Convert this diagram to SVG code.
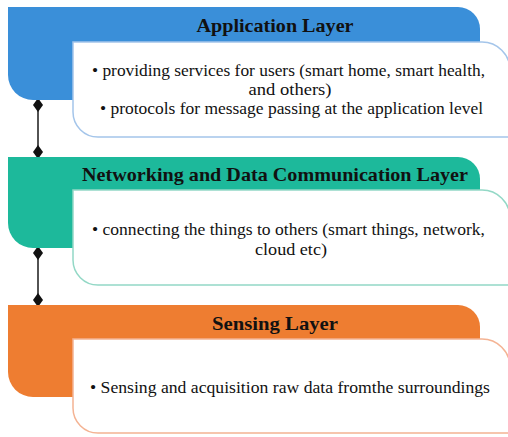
<svg xmlns="http://www.w3.org/2000/svg" width="508" height="437" viewBox="0 0 508 437">
<style>
.title{font-family:"Liberation Serif","Times New Roman",serif;font-weight:bold;font-size:19px;fill:#111;text-anchor:middle}
.body{font-family:"Liberation Serif","Times New Roman",serif;font-size:17px;fill:#111;text-anchor:middle}
.card{fill:#fff;stroke-width:1.5}
.conn{stroke:#1a1a1a;stroke-width:1.5;fill:none}
</style>
<defs>
<marker id="dStart" markerUnits="userSpaceOnUse" markerWidth="12" markerHeight="16" viewBox="-6 -8 12 16" refX="0" refY="-5" orient="0">
<path d="M0,-7 L5,0 L0,7 L-5,0 Z" fill="#111"/>
</marker>
<marker id="dEnd" markerUnits="userSpaceOnUse" markerWidth="12" markerHeight="16" viewBox="-6 -8 12 16" refX="0" refY="5" orient="0">
<path d="M0,-7 L5,0 L0,7 L-5,0 Z" fill="#111"/>
</marker>
</defs>
<g id="connectors">
<line class="conn" x1="38" y1="100" x2="38" y2="157" marker-start="url(#dStart)" marker-end="url(#dEnd)"/>
<line class="conn" x1="38" y1="248" x2="38" y2="305" marker-start="url(#dStart)" marker-end="url(#dEnd)"/>
</g>
<g id="application-layer">
<path d="M8,7 H458 A22,22 0 0 1 480,29 V100 H33 A25,25 0 0 1 8,75 Z" fill="#3a8fd9"/>
<text class="title" x="275" y="32" textLength="157" lengthAdjust="spacingAndGlyphs">Application Layer</text>
<path class="card" stroke="#a4c5ea" d="M73,42 H482 A28,28 0 0 1 510,70 V137 H98 A25,25 0 0 1 73,112 Z"/>
<text class="body" x="288.5" y="76" textLength="393" lengthAdjust="spacingAndGlyphs">• providing services for users (smart home, smart health,</text>
<text class="body" x="290" y="95" textLength="83" lengthAdjust="spacingAndGlyphs">and others)</text>
<text class="body" x="291.5" y="114" textLength="383" lengthAdjust="spacingAndGlyphs">• protocols for message passing at the application level</text>
</g>
<g id="networking-layer">
<path d="M8,157 H458 A22,22 0 0 1 480,179 V248 H33 A25,25 0 0 1 8,223 Z" fill="#1db99b"/>
<text class="title" x="275" y="181" textLength="386" lengthAdjust="spacingAndGlyphs">Networking and Data Communication Layer</text>
<path class="card" stroke="#93d8c6" d="M73,190 H482 A28,28 0 0 1 510,218 V285 H98 A25,25 0 0 1 73,260 Z"/>
<text class="body" x="288.5" y="235" textLength="393" lengthAdjust="spacingAndGlyphs">• connecting the things to others (smart things, network,</text>
<text class="body" x="291" y="255" textLength="72" lengthAdjust="spacingAndGlyphs">cloud etc)</text>
</g>
<g id="sensing-layer">
<path d="M8,305 H458 A22,22 0 0 1 480,327 V397 H33 A25,25 0 0 1 8,372 Z" fill="#ee7d31"/>
<text class="title" x="275" y="330" textLength="126" lengthAdjust="spacingAndGlyphs">Sensing Layer</text>
<path class="card" stroke="#f4b393" d="M73,339 H482 A28,28 0 0 1 510,367 V433 H98 A25,25 0 0 1 73,408 Z"/>
<text class="body" x="290" y="393" textLength="400" lengthAdjust="spacingAndGlyphs">• Sensing and acquisition raw data fromthe surroundings</text>
</g>
</svg>
